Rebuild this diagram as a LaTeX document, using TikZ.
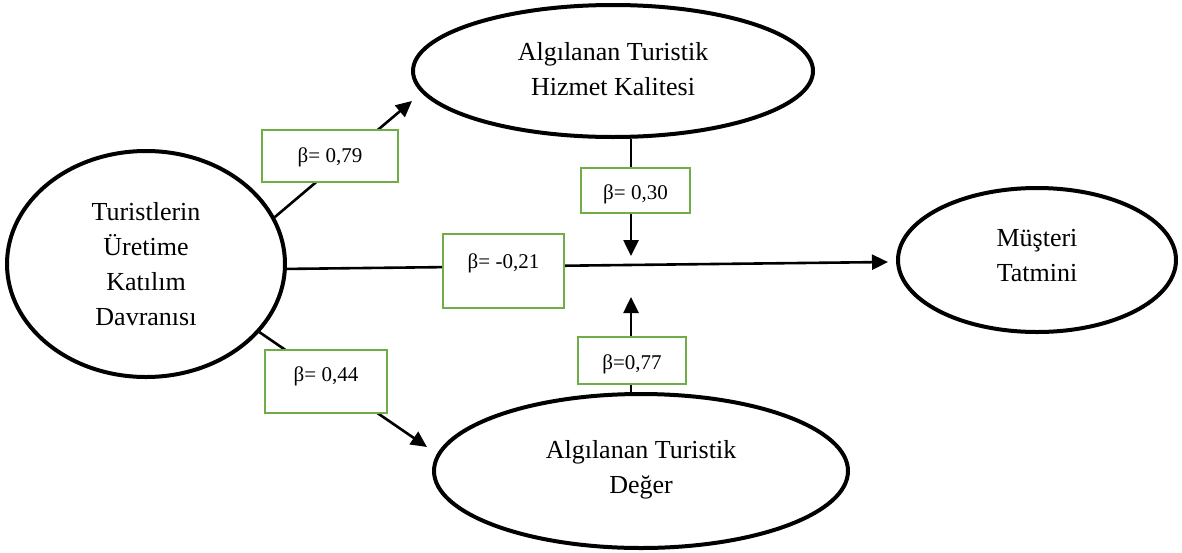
\documentclass[tikz,border=0pt]{standalone}
\usepackage{fontspec}
\setmainfont{Liberation Serif}
\usetikzlibrary{shapes.geometric,arrows.meta}
\definecolor{boxgreen}{HTML}{70AD47}
\begin{document}
\begin{tikzpicture}[x=1pt,y=-1pt,
  construct/.style={ellipse,draw=black,line width=4pt,align=center,font=\fontsize{26}{35}\selectfont,inner sep=0pt},
  coef/.style={draw=boxgreen,line width=2pt,fill=white,inner sep=0pt,anchor=north west,font=\fontsize{21}{25}\selectfont},
  conn/.style={line width=2.6pt,-{Triangle[length=16pt,width=15pt]}}
]
\useasboundingbox (0,0) rectangle (1182,552);
\node[construct,minimum width=278pt,minimum height=226pt] (L) at (146,264) {Turistlerin\\Üretime\\Katılım\\Davranısı};
\node[construct,minimum width=400pt,minimum height=132pt] (T) at (613,71) {Algılanan Turistik\\Hizmet Kalitesi\rule[-4pt]{0pt}{0pt}};
\node[construct,minimum width=414pt,minimum height=154pt] (B) at (641,471) {Algılanan Turistik\\Değer\rule[-8pt]{0pt}{0pt}};
\node[construct,minimum width=278pt,minimum height=144pt] (M) at (1037,260) {Müşteri\\Tatmini\rule[-10pt]{0pt}{0pt}};

\coordinate (tipT) at (412,101);
\coordinate (tipB) at (427,447);
\coordinate (tipM) at (888,262);
\coordinate (tipV1) at (631,256);
\coordinate (tipV2) at (631,297);

\draw[conn] (L.20) -- (tipT);
\draw[conn] (L.-2) -- (tipM);
\draw[conn] (L.-31.5) -- (tipB);
\draw[conn] (T.south -| tipV1) -- (tipV1);
\draw[conn] (B.north -| tipV2) -- (tipV2);

\node[coef,minimum width=136pt,text height=32pt,text depth=20pt] (b1) at (261,129) {β= 0,79};
\node[coef,minimum width=109pt,text height=31pt,text depth=14pt] (b2) at (580,167) {β= 0,30};
\node[coef,minimum width=121pt,text height=34pt,text depth=40pt] (b3) at (442,233) {β= -0,21};
\node[coef,minimum width=108pt,text height=32pt,text depth=15pt] (b4) at (577,336) {β=0,77};
\node[coef,minimum width=122pt,text height=31pt,text depth=32pt] (b5) at (264,349) {β= 0,44};
\end{tikzpicture}
\end{document}
